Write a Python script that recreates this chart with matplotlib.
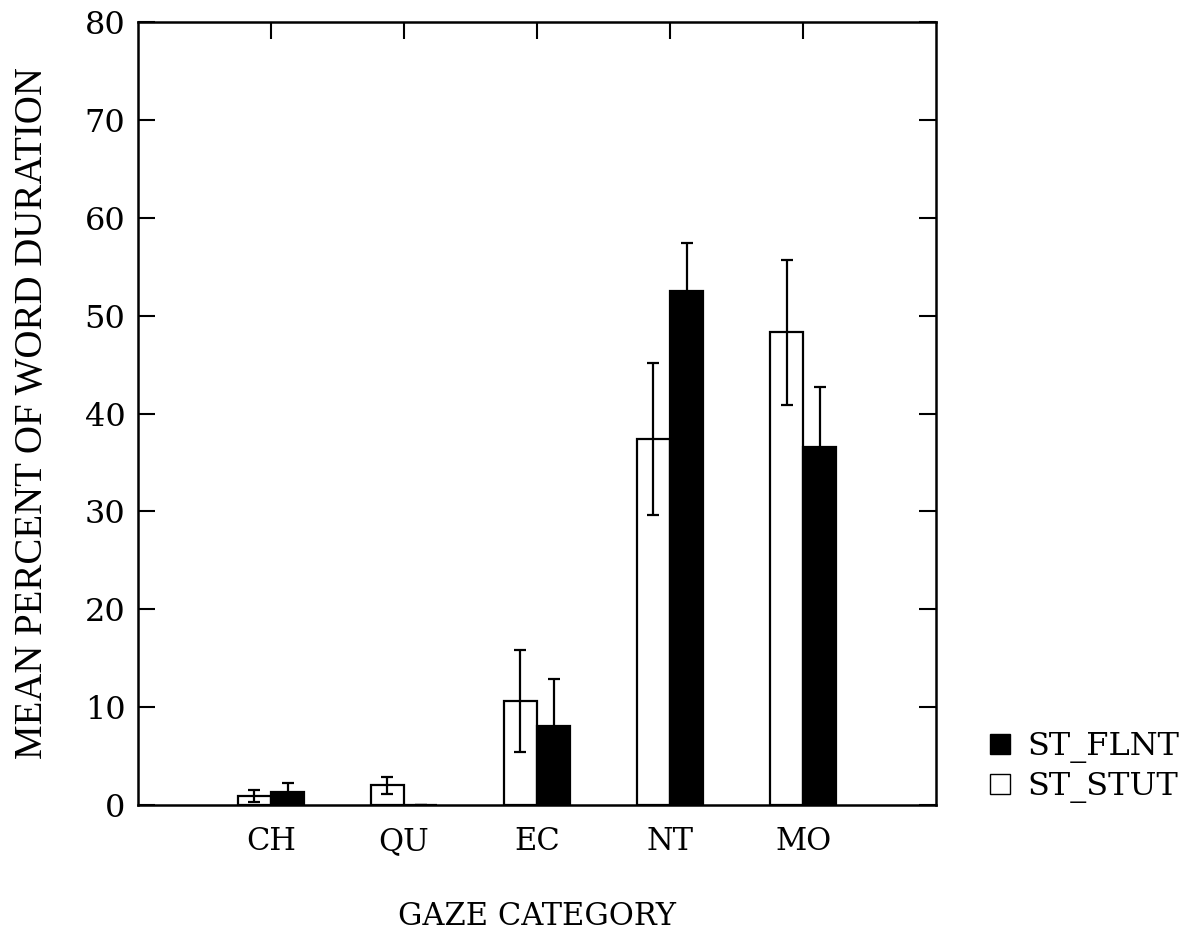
import matplotlib
matplotlib.use('Agg')
import matplotlib.pyplot as plt
from matplotlib.patches import Patch

# values
categories = ['CH', 'QU', 'EC', 'NT', 'MO']
stut_mean = [0.9, 2.0, 10.6, 37.4, 48.3]
stut_err = [0.6, 0.9, 5.2, 7.8, 7.4]
flnt_mean = [1.3, 0.0, 8.1, 52.5, 36.6]
flnt_err = [0.9, 0.0, 4.8, 4.9, 6.1]
yticks = [0, 10, 20, 30, 40, 50, 60, 70, 80]

plt.rcParams['font.family'] = ['DejaVu Serif']


def main():
    fig = plt.figure(figsize=(11.85, 9.33), dpi=100)
    ax = fig.add_axes([0.1165, 0.1372, 0.6735, 0.8392])

    x = list(range(1, len(categories) + 1))
    w = 0.25
    xs = [i - w / 2 for i in x]
    xf = [i + w / 2 for i in x]

    ax.bar(xs, stut_mean, w, color='white', edgecolor='black', linewidth=1.6,
           yerr=stut_err, capsize=4.5, error_kw=dict(ecolor='black', elinewidth=1.6, capthick=1.6))
    ax.bar(xf, flnt_mean, w, color='black', edgecolor='black', linewidth=1.6,
           yerr=flnt_err, capsize=4.5, error_kw=dict(ecolor='black', elinewidth=1.6, capthick=1.6))

    ax.set_xlim(0, 6)
    ax.set_ylim(0, 80)
    ax.set_yticks(yticks)
    ax.set_xticks(x)
    ax.set_xticklabels(categories)

    ax.tick_params(axis='y', which='both', direction='in', length=12, width=1.5,
                   left=True, right=True, labelsize=23, pad=9)
    ax.tick_params(axis='x', which='both', direction='in', length=12, width=1.5,
                   top=True, bottom=False, labelsize=22, pad=15)
    for s in ax.spines.values():
        s.set_linewidth(1.8)

    ax.set_ylabel('MEAN PERCENT OF WORD DURATION', family='Liberation Serif',
                  fontsize=28, labelpad=24)
    ax.set_xlabel('GAZE CATEGORY', fontsize=22, labelpad=32)

    handles = [Patch(facecolor='black', edgecolor='black', label='ST_FLNT'),
               Patch(facecolor='white', edgecolor='black', label='ST_STUT')]
    fig.legend(handles=handles, loc='center left', bbox_to_anchor=(0.825, 0.178),
               frameon=False, fontsize=23, handlelength=0.6, handleheight=0.6,
               handletextpad=0.55, labelspacing=0.25, borderaxespad=0)

    fig.savefig('out.png', dpi=100)


if __name__ == '__main__':
    main()
